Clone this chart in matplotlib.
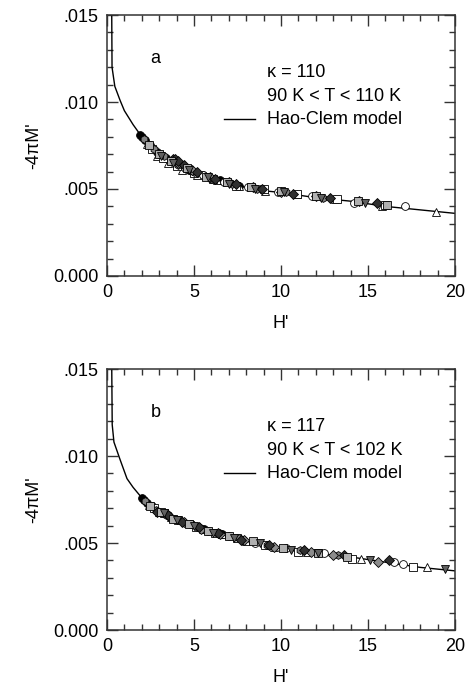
import matplotlib
matplotlib.use("Agg")
import matplotlib.pyplot as plt
from matplotlib.ticker import MultipleLocator, FuncFormatter

plt.rcParams['font.family'] = ['Liberation Sans', 'DejaVu Sans']

# ---- panel a: Hao-Clem model curve and data (kappa = 110) ----
curve_a_H = [0.27, 0.29, 0.45, 0.75, 1.0, 1.5, 2.0, 2.5, 3, 4, 5, 6, 7, 8, 9, 10, 12, 14, 16, 18, 20]
curve_a_M = [0.0155, 0.0120, 0.0109, 0.0101, 0.0095, 0.0087, 0.0080, 0.0074, 0.0070, 0.0064, 0.0060,
             0.0056, 0.0053, 0.0051, 0.0049, 0.0048, 0.0045, 0.0043, 0.0040, 0.0038, 0.0036]

a_series = {
    'black_circle': ([1.9, 2.0, 2.2, 2.5, 2.9, 3.4, 4.0, 4.7, 5.5, 6.5, 7.6],
                     [0.0081, 0.0080, 0.0078, 0.0075, 0.0071, 0.0068, 0.0065, 0.0061, 0.0058, 0.0055, 0.0052]),
    'tri_up': ([2.3, 2.9, 3.5, 4.3, 5.2, 6.3, 7.6, 9.1, 10.9, 13.1, 15.8, 18.9],
               [0.0076, 0.0069, 0.0065, 0.0061, 0.0058, 0.0055, 0.0052, 0.0049, 0.0047, 0.0044, 0.0040, 0.0037]),
    'sq_open': ([2.6, 3.2, 4.0, 5.0, 6.1, 7.4, 9.0, 10.9, 13.2, 16.0],
                [0.0073, 0.0068, 0.0063, 0.0059, 0.0056, 0.0052, 0.0050, 0.0047, 0.0044, 0.0041]),
    'circ_open': ([3.0, 3.7, 4.5, 5.5, 6.7, 8.1, 9.8, 11.8, 14.2, 17.1],
                  [0.0070, 0.0066, 0.0062, 0.0058, 0.0054, 0.0051, 0.0048, 0.0046, 0.0042, 0.0040]),
    'hex': ([2.1, 2.7, 3.3, 4.1, 5.0, 6.0, 7.2, 8.6, 10.3, 12.4],
            [0.0079, 0.0073, 0.0069, 0.0064, 0.0060, 0.0056, 0.0053, 0.0050, 0.0048, 0.0045]),
    'diam_gray': ([4.1, 4.9, 5.9, 7.0, 8.4, 10.0, 12.0, 14.5],
                  [0.0065, 0.0061, 0.0057, 0.0054, 0.0051, 0.0048, 0.0046, 0.0043]),
    'diam_black': ([3.8, 3.9, 4.1, 4.4, 5.2, 6.2, 7.4, 8.9, 10.7, 12.8, 15.5],
                   [0.0067, 0.0067, 0.0066, 0.0064, 0.0060, 0.0056, 0.0053, 0.0050, 0.0047, 0.0045, 0.0042]),
    'sq_gray': ([2.4, 3.0, 3.7, 4.6, 5.7, 6.9, 8.3, 10.0, 12.0, 14.4, 16.1],
                [0.0075, 0.0070, 0.0066, 0.0062, 0.0057, 0.0054, 0.0051, 0.0049, 0.0046, 0.0043, 0.0041]),
    'tri_down': ([3.1, 3.8, 4.7, 5.8, 7.0, 8.5, 10.2, 12.3, 14.8],
                 [0.0069, 0.0065, 0.0061, 0.0057, 0.0053, 0.0050, 0.0048, 0.0045, 0.0042]),
}

# ---- panel b: Hao-Clem model curve and data (kappa = 117) ----
curve_b_H = [0.27, 0.30, 0.40, 0.75, 1.15, 1.5, 2.0, 2.5, 3, 4, 5, 6, 7, 8, 9, 10, 11, 12, 14, 16, 18, 20]
curve_b_M = [0.0155, 0.0118, 0.0108, 0.0098, 0.0087, 0.0082, 0.0076, 0.0071, 0.0068, 0.0064, 0.0060,
             0.0057, 0.0054, 0.0051, 0.0049, 0.0047, 0.0045, 0.0044, 0.0042, 0.0039, 0.0036, 0.0034]

b_series = {
    'black_circle': ([2.0, 2.1, 2.3, 2.6, 3.0, 3.5, 4.1, 4.8, 5.6, 6.6, 7.8, 9.2],
                     [0.0076, 0.0075, 0.0073, 0.0071, 0.0068, 0.0066, 0.0063, 0.0061, 0.0058, 0.0055, 0.0052, 0.0049]),
    'tri_up': ([2.4, 3.0, 3.7, 4.5, 5.5, 6.6, 8.0, 9.6, 11.5, 14.6, 18.4],
               [0.0072, 0.0068, 0.0065, 0.0062, 0.0058, 0.0055, 0.0051, 0.0048, 0.0045, 0.0041, 0.0036]),
    'sq_open': ([2.7, 3.3, 4.1, 5.1, 6.2, 7.5, 9.1, 11.0, 14.1, 17.6],
                [0.0070, 0.0067, 0.0063, 0.0059, 0.0056, 0.0053, 0.0049, 0.0045, 0.0041, 0.0036]),
    'circ_open': ([3.2, 3.9, 4.8, 5.8, 7.0, 8.5, 10.3, 12.5, 16.5, 17.0],
                  [0.0067, 0.0064, 0.0061, 0.0057, 0.0054, 0.0050, 0.0047, 0.0044, 0.0039, 0.0038]),
    'hex': ([2.2, 2.8, 3.4, 4.2, 5.2, 6.3, 7.6, 9.2, 11.1, 13.3],
            [0.0074, 0.0069, 0.0066, 0.0063, 0.0059, 0.0056, 0.0053, 0.0049, 0.0046, 0.0043]),
    'diam_gray': ([3.6, 4.4, 5.4, 6.5, 7.9, 9.6, 11.7, 13.0, 15.6],
                  [0.0065, 0.0062, 0.0058, 0.0055, 0.0052, 0.0048, 0.0045, 0.0043, 0.0039]),
    'diam_black': ([2.9, 3.5, 4.3, 5.3, 6.4, 7.7, 9.3, 11.3, 13.6, 16.2],
                   [0.0068, 0.0066, 0.0062, 0.0059, 0.0056, 0.0052, 0.0049, 0.0046, 0.0043, 0.0040]),
    'sq_gray': ([2.5, 3.1, 3.8, 4.7, 5.8, 7.0, 8.4, 10.1, 12.1, 13.8],
                [0.0071, 0.0068, 0.0064, 0.0061, 0.0057, 0.0054, 0.0051, 0.0047, 0.0044, 0.0042]),
    'tri_down': ([3.3, 4.0, 5.0, 6.1, 7.3, 8.8, 10.6, 12.1, 15.1, 19.4],
                 [0.0067, 0.0063, 0.0060, 0.0056, 0.0053, 0.0050, 0.0046, 0.0044, 0.0040, 0.0035]),
}

# marker shape and face colour for each series
styles = {
    'black_circle': ('o', 'black'),
    'tri_up': ('^', 'white'),
    'sq_open': ('s', 'white'),
    'circ_open': ('o', 'white'),
    'hex': ('h', '#808080'),
    'diam_gray': ('D', '#8c8c8c'),
    'diam_black': ('D', '#303030'),
    'sq_gray': ('s', '#b0b0b0'),
    'tri_down': ('v', '#606060'),
}

panels = [
    ('a', 'κ = 110', '90 K < T < 110 K', curve_a_H, curve_a_M, a_series),
    ('b', 'κ = 117', '90 K < T < 102 K', curve_b_H, curve_b_M, b_series),
]


def fmt_y(v, pos):
    if abs(v) < 1e-9:
        return '0.000'
    return ('%.3f' % v)[1:]


fig = plt.figure(figsize=(4.67, 6.98), dpi=100)
rects = [[0.2291, 0.6046, 0.7452, 0.3739], [0.2291, 0.0974, 0.7452, 0.3739]]

for rect, (tag, kappa, trange, cH, cM, series) in zip(rects, panels):
    ax = fig.add_axes(rect)
    ax.plot(cH, cM, color='black', lw=1.0, zorder=2)
    for name, (H, M) in series.items():
        mk, fc = styles[name]
        ms = 5.0 if mk == 'D' else 5.6
        ax.plot(H, M, linestyle='none', marker=mk, markersize=ms, markerfacecolor=fc,
                markeredgecolor='black', markeredgewidth=0.6, zorder=3)

    ax.set_xlim(0, 20)
    ax.set_ylim(0, 0.015)
    ax.xaxis.set_major_locator(MultipleLocator(5))
    ax.xaxis.set_minor_locator(MultipleLocator(1))
    ax.yaxis.set_major_locator(MultipleLocator(0.005))
    ax.yaxis.set_minor_locator(MultipleLocator(0.001))
    ax.yaxis.set_major_formatter(FuncFormatter(fmt_y))
    ax.tick_params(which='both', direction='in', top=True, right=True, color='#333333',
                   labelsize=13, width=1.0)
    ax.tick_params(which='major', length=8, pad=6)
    ax.tick_params(which='minor', length=4.5)
    for sp in ax.spines.values():
        sp.set_linewidth(1.1)
        sp.set_color('#333333')

    ax.set_xlabel("H'", fontsize=13, labelpad=10)
    ax.set_ylabel("-4πM'", fontsize=13, labelpad=8)

    ax.text(2.8, 0.0125, tag, fontsize=13, ha='center', va='center')
    ax.text(9.2, 0.0117, kappa, fontsize=13, va='center')
    ax.text(9.2, 0.0103, trange, fontsize=13, va='center')
    ax.plot([6.7, 8.5], [0.0090, 0.0090], color='black', lw=1.0)
    ax.text(9.2, 0.0090, 'Hao-Clem model', fontsize=13, va='center')

fig.savefig('out.png', dpi=100)
